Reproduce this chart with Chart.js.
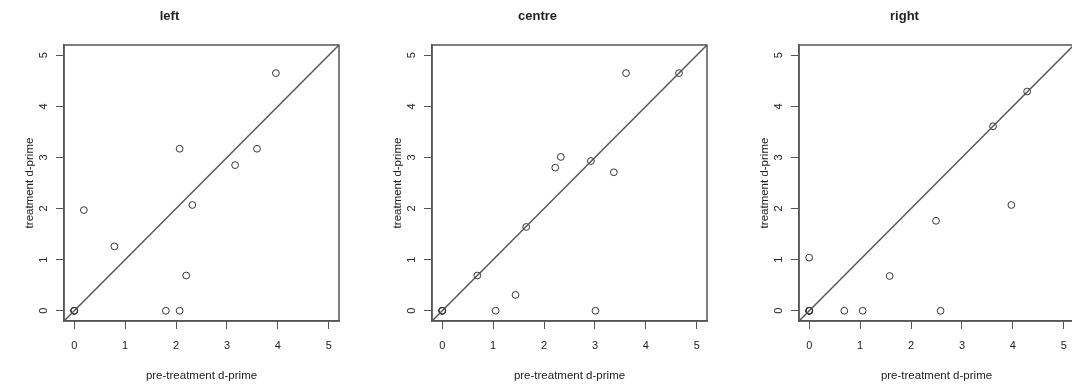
<!DOCTYPE html>
<html>
<head>
<meta charset="utf-8">
<script src="https://cdn.jsdelivr.net/npm/chart.js@4"></script>
<style>
  html, body { margin: 0; padding: 0; background: #fff; overflow: hidden; }
  #wrap { position: relative; width: 1072px; height: 386px; overflow: hidden; }
  .panel { position: absolute; top: 0; width: 368px; height: 386px; }
</style>
</head>
<body>
<div id="wrap">
  <div class="panel" style="left:0px"><canvas id="c0" width="368" height="386"></canvas></div>
  <div class="panel" style="left:367.6px"><canvas id="c1" width="368" height="386"></canvas></div>
  <div class="panel" style="left:735.3px"><canvas id="c2" width="368" height="386"></canvas></div>
</div>
<script>
// panel titles
const panelTitles = ["left", "centre", "right"]
const xTitle = "pre-treatment d-prime"
const yTitle = "treatment d-prime"
const tickValues = [0, 1, 2, 3, 4, 5]
const axisMin = -0.2
const axisMax = 5.2
// identity line y = x
const diagonal = [-0.2, 5.2]

// pre-treatment (x) / treatment (y) d-prime per panel
const leftPre   = [0, 0, 0, 0.19, 0.79, 1.80, 2.07, 2.07, 2.20, 2.32, 3.16, 3.59, 3.96]
const leftPost  = [0, 0, 0, 1.97, 1.26, 0,    0,    3.17, 0.69, 2.07, 2.85, 3.17, 4.65]
const centrePre  = [0, 0, 0, 0.69, 1.05, 1.44, 1.65, 2.22, 2.33, 2.92, 3.01, 3.37, 3.61, 4.65]
const centrePost = [0, 0, 0, 0.69, 0,    0.31, 1.64, 2.80, 3.01, 2.93, 0,    2.71, 4.65, 4.65]
const rightPre  = [0, 0, 0, 0, 0,    0.69, 1.05, 1.58, 2.49, 2.58, 3.61, 3.97, 4.28]
const rightPost = [0, 0, 0, 0, 1.04, 0,    0,    0.68, 1.76, 0,    3.61, 2.07, 4.29]

const panels = [
  { pre: leftPre, post: leftPost },
  { pre: centrePre, post: centrePost },
  { pre: rightPre, post: rightPost }
]

const ink = '#222'
const lineCol = '#555'
const font = 'Liberation Sans, Arial, Helvetica, sans-serif'

// R-style box round the plot region, and rotated y tick labels
const boxPlugin = {
  id: 'rbox',
  afterDraw(chart) {
    const { ctx, chartArea: a } = chart
    ctx.save()
    ctx.strokeStyle = lineCol
    ctx.lineWidth = 1.5
    ctx.strokeRect(a.left, a.top, a.right - a.left, a.bottom - a.top)
    const ys = chart.scales.y
    ctx.fillStyle = ink
    ctx.font = '11px ' + font
    ctx.textAlign = 'center'
    ctx.textBaseline = 'middle'
    tickValues.forEach(v => {
      ctx.save()
      ctx.translate(a.left - 20, ys.getPixelForValue(v))
      ctx.rotate(-Math.PI / 2)
      ctx.fillText(String(v), 0, 0)
      ctx.restore()
    })
    ctx.restore()
  }
}

const setTicks = scale => { scale.ticks = tickValues.map(v => ({ value: v })) }

panels.forEach((p, i) => {
  const ctx = document.getElementById('c' + i).getContext('2d')
  new Chart(ctx, {
    type: 'scatter',
    data: {
      datasets: [
        {
          type: 'line',
          data: diagonal.map(v => ({ x: v, y: v })),
          borderColor: lineCol,
          borderWidth: 1.5,
          pointRadius: 0,
          fill: false
        },
        {
          data: p.pre.map((x, k) => ({ x, y: p.post[k] })),
          pointStyle: 'circle',
          pointRadius: 3.4,
          borderColor: '#333',
          borderWidth: 1,
          backgroundColor: 'rgba(0,0,0,0)'
        }
      ]
    },
    options: {
      responsive: false,
      animation: false,
      layout: { padding: { left: 0, right: 29, top: 0, bottom: 0 } },
      plugins: {
        legend: { display: false },
        tooltip: { enabled: false },
        title: {
          display: true,
          text: panelTitles[i],
          color: ink,
          font: { family: font, size: 13, weight: 'bold', lineHeight: 1.2 },
          padding: { top: 9, bottom: 20.4 }
        }
      },
      scales: {
        x: {
          type: 'linear',
          min: axisMin,
          max: axisMax,
          afterBuildTicks: setTicks,
          afterFit: s => { s.height = 65 },
          ticks: { color: ink, font: { family: font, size: 11 }, padding: 10, maxRotation: 0 },
          grid: { drawOnChartArea: false, drawTicks: true, tickLength: 8, color: lineCol, lineWidth: 1 },
          border: { display: true, color: lineCol, width: 1.5 },
          title: { display: true, text: xTitle, color: ink, font: { family: font, size: 11.5 }, padding: { top: 0, bottom: 3 } }
        },
        y: {
          type: 'linear',
          min: axisMin,
          max: axisMax,
          afterBuildTicks: setTicks,
          afterFit: s => { s.width = 64 },
          ticks: { display: false },
          grid: { drawOnChartArea: false, drawTicks: true, tickLength: 8, color: lineCol, lineWidth: 1 },
          border: { display: true, color: lineCol, width: 1.5 },
          title: { display: true, text: yTitle, color: ink, font: { family: font, size: 11.5 }, padding: { top: 23, bottom: 0 } }
        }
      }
    },
    plugins: [boxPlugin]
  })
})
</script>
</body>
</html>
